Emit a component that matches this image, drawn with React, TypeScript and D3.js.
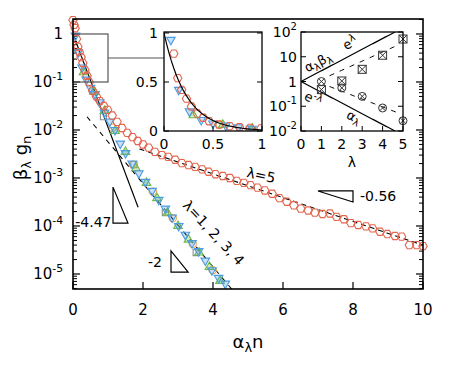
import * as d3 from "d3";

// λ = 5 series (red hexagons)
const redX = [0, 0.03, 0.06, 0.1, 0.14, 0.18, 0.23, 0.28, 0.34, 0.4, 0.46, 0.56, 0.67, 0.77, 0.88, 0.99,
  1.12, 1.26, 1.4, 1.55, 1.7, 1.85, 2.0, 2.16, 2.34, 2.54, 2.72, 2.92, 3.11, 3.3, 3.49, 3.69, 3.87,
  4.07, 4.28, 4.48, 4.68, 4.88, 5.07, 5.27, 5.48, 5.69, 5.9, 6.11, 6.31, 6.51, 6.72, 6.91, 7.13,
  7.34, 7.53, 7.74, 7.94, 8.15, 8.37, 8.56, 8.77, 8.98, 9.2, 9.39, 9.61, 9.82, 10.0];
const redY = [1.95, 1.55, 1.32, 0.79, 0.54, 0.42, 0.33, 0.25, 0.178, 0.135, 0.1, 0.066, 0.05, 0.04, 0.0316, 0.0263,
  0.02, 0.0148, 0.011, 8.7e-3, 7.1e-3, 5.9e-3, 5.0e-3, 4.3e-3, 3.5e-3, 3.0e-3, 2.75e-3, 2.4e-3, 2.04e-3, 1.86e-3, 1.7e-3, 1.51e-3, 1.35e-3,
  1.2e-3, 1.1e-3, 1.0e-3, 8.7e-4, 7.9e-4, 7.1e-4, 6.3e-4, 5.5e-4, 4.7e-4, 3.8e-4, 3.2e-4, 2.7e-4, 2.3e-4, 2.1e-4, 1.9e-4, 1.78e-4,
  1.82e-4, 1.55e-4, 1.38e-4, 1.15e-4, 1.05e-4, 9.8e-5, 8.9e-5, 7.6e-5, 6.8e-5, 6.2e-5, 6.0e-5, 4.0e-5, 4.0e-5, 3.8e-5];

// λ = 4 (blue down-triangles)
const blueX = [0.07, 0.15, 0.26, 0.38, 0.5, 0.63, 0.76, 0.9, 1.05, 1.2, 1.35, 1.5, 1.69, 1.88, 2.07, 2.26,
  2.45, 2.64, 2.83, 3.02, 3.21, 3.4, 3.59, 3.78, 3.97, 4.16, 4.35];
const blueY = [0.93, 0.42, 0.2, 0.112, 0.076, 0.056, 0.038, 0.023, 0.015, 0.01, 5.2e-3, 3.3e-3, 2.0e-3, 1.26e-3, 8.3e-4, 5.4e-4,
  3.5e-4, 2.3e-4, 1.5e-4, 1.0e-4, 6.6e-5, 4.4e-5, 3.0e-5, 1.9e-5, 1.2e-5, 8.3e-6, 6.3e-6];

// λ = 3 (green up-triangles)
const greenX = [0.3, 0.6, 0.9, 1.2, 1.5, 1.8, 2.1, 2.4, 2.7, 3.0, 3.3, 3.6, 3.9, 4.2];
const greenY = [0.16, 0.063, 0.025, 9.5e-3, 3.5e-3, 1.6e-3, 7.9e-4, 3.8e-4, 1.9e-4, 1.0e-4, 5.2e-5, 2.8e-5, 1.4e-5, 7.2e-6];

// λ = 2 (orange circles)
const orangeX = [0.57, 1.14, 1.71, 2.28, 2.85, 3.42, 3.99];
const orangeY = [0.063, 0.0112, 1.9e-3, 5.2e-4, 1.45e-4, 4.2e-5, 1.2e-5];

// λ = 1 (grey squares)
const greyX = [0.87, 1.74, 2.64, 3.52];
const greyY = [0.019, 1.9e-3, 1.9e-4, 2.8e-5];

// fitted exponentials: amp * exp(-rate * x)
const steepFit = { amp: 1, rate: 4.47, from: 0, to: 1.86 };
const groupFit = { amp: 0.042, rate: 2, from: 0.4, to: 4.6 };
const tailFit = { amp: 0.0119, rate: 0.57, from: 1.9, to: 10 };

// right inset: values against λ
const lambdas = [1, 2, 3, 4, 5];
const alphaBeta = [0.47, 1.05, 3.1, 11.5, 52];
const alphaVals = [1.0, 0.55, 0.25, 0.085, 0.026];

const xTicks = [0, 2, 4, 6, 8, 10];
const yDecades = [0, -1, -2, -3, -4, -5];
const insetTicks = [0, 0.5, 1];
const lamTicks = [0, 1, 2, 3, 4, 5];
const lamDecades = [2, 1, 0, -1, -2];

const FONT = "DejaVu Sans, Verdana, sans-serif";
const RED = "#e4644e";
const BLUE = "#4a9be0";
const GREEN = "#6cb944";
const ORANGE = "#f2a04e";
const GREY = "#8c8c8c";

const x = d3.scaleLinear().domain([0, 10]).range([73, 423]);
const y = d3.scaleLog().domain([4.87e-6, 2.053]).range([289, 19]);

const xi = d3.scaleLinear().domain([0, 1]).range([164, 262]);
const yi = d3.scaleLinear().domain([0, 1.01]).range([131, 32]);

const xl = d3.scaleLinear().domain([0, 5]).range([301, 403]);
const yl = d3.scaleLog().domain([0.01, 100]).range([131, 32]);

type Kind = "hex" | "down" | "up" | "circle" | "square";

const series: { kind: Kind; color: string; xs: number[]; ys: number[] }[] = [
  { kind: "square", color: GREY, xs: greyX, ys: greyY },
  { kind: "circle", color: ORANGE, xs: orangeX, ys: orangeY },
  { kind: "up", color: GREEN, xs: greenX, ys: greenY },
  { kind: "down", color: BLUE, xs: blueX, ys: blueY },
  { kind: "hex", color: RED, xs: redX, ys: redY },
];

const hexPath = (() => {
  const r = 4.2;
  const pts = d3.range(6).map((i) => {
    const a = (Math.PI / 3) * i;
    return [r * Math.cos(a), r * Math.sin(a)] as [number, number];
  });
  return d3.line()(pts) + "Z";
})();

const symPath: Record<Kind, string> = {
  hex: hexPath,
  down: d3.symbol(d3.symbolTriangle, 32)() as string,
  up: d3.symbol(d3.symbolTriangle, 32)() as string,
  circle: d3.symbol(d3.symbolCircle, 42)() as string,
  square: d3.symbol(d3.symbolSquare, 38)() as string,
};

function Marker({ kind, cx, cy, color }: { kind: Kind; cx: number; cy: number; color: string }) {
  const rot = kind === "down" ? " rotate(180)" : "";
  const fill = kind === "down" || kind === "up" ? color : "none";
  return (
    <path
      d={symPath[kind]}
      transform={`translate(${cx},${cy})${rot}`}
      fill={fill}
      fillOpacity={0.3}
      stroke={color}
      strokeWidth={1.1}
    />
  );
}

function fitPath(f: { amp: number; rate: number; from: number; to: number }, sx: any, sy: any) {
  const pts = d3.range(0, 41).map((i) => {
    const xv = f.from + ((f.to - f.from) * i) / 40;
    return [sx(xv), sy(f.amp * Math.exp(-f.rate * xv))] as [number, number];
  });
  return d3.line()(pts) as string;
}

function PowLabel({ x0, y0, exp, size, anchor = "end" }: { x0: number; y0: number; exp: number; size: number; anchor?: string }) {
  if (exp === 0)
    return (
      <text x={x0} y={y0} textAnchor={anchor} dominantBaseline="central" fontSize={size}>1</text>
    );
  if (exp === 1)
    return (
      <text x={x0} y={y0} textAnchor={anchor} dominantBaseline="central" fontSize={size}>10</text>
    );
  return (
    <text x={x0} y={y0} textAnchor={anchor} dominantBaseline="central" fontSize={size}>
      10<tspan dy={-6} fontSize={size * 0.72}>{exp}</tspan>
    </text>
  );
}

// slope triangles, in data units (x, log10 y)
const slopeTris = [
  { pts: [[1.143, -3.19], [1.143, -3.94], [1.571, -3.94]], label: "-4.47", lx: 1.1, ly: -3.92, anchor: "end" },
  { pts: [[2.8, -4.52], [2.8, -4.96], [3.29, -4.96]], label: "-2", lx: 2.54, ly: -4.75, anchor: "end" },
  { pts: [[7.0, -3.27], [8.0, -3.27], [8.0, -3.5]], label: "-0.56", lx: 8.2, ly: -3.38, anchor: "start" },
];

export default function App() {
  const [x0, x1] = x.range();
  const yBot = 289, yTop = 19;
  const minors: number[] = [];
  for (let d = -6; d <= 0; d++)
    for (let k = 2; k <= 9; k++) {
      const v = k * Math.pow(10, d);
      if (v > 4.87e-6 && v < 2.05) minors.push(v);
    }

  return (
    <svg width={450} height={375} style={{ position: "absolute", left: 0, top: 0, background: "#fff" }} fontFamily={FONT}>
      <defs>
        <clipPath id="main-clip">
          <rect x={x0} y={yTop} width={x1 - x0} height={yBot - yTop} />
        </clipPath>
        <clipPath id="inset-clip">
          <rect x={164} y={32} width={98} height={99} />
        </clipPath>
        <clipPath id="lam-clip">
          <rect x={301} y={32} width={102} height={99} />
        </clipPath>
      </defs>

      {/* main ticks */}
      {xTicks.map((t) => (
        <g key={"xt" + t}>
          <line x1={x(t)} x2={x(t)} y1={yBot} y2={yBot - 7} stroke="#000" strokeWidth={1.2} />
          <text x={x(t)} y={310} textAnchor="middle" dominantBaseline="central" fontSize={15}>{t}</text>
        </g>
      ))}
      {yDecades.map((d) => (
        <g key={"yt" + d}>
          <line x1={x0} x2={x0 + 7} y1={y(Math.pow(10, d))} y2={y(Math.pow(10, d))} stroke="#000" strokeWidth={1.2} />
          <line x1={x1} x2={x1 - 7} y1={y(Math.pow(10, d))} y2={y(Math.pow(10, d))} stroke="#000" strokeWidth={1.2} />
          <PowLabel x0={63} y0={y(Math.pow(10, d))} exp={d} size={15} />
        </g>
      ))}
      {minors.map((v, i) => (
        <g key={"mn" + i}>
          <line x1={x0} x2={x0 + 4} y1={y(v)} y2={y(v)} stroke="#000" strokeWidth={1} />
          <line x1={x1} x2={x1 - 4} y1={y(v)} y2={y(v)} stroke="#000" strokeWidth={1} />
        </g>
      ))}

      {/* fits */}
      <g clipPath="url(#main-clip)" fill="none" stroke="#000">
        <path d={fitPath(steepFit, x, y)} strokeWidth={1.2} />
        <path d={fitPath(groupFit, x, y)} strokeWidth={1.1} strokeDasharray="5,5" />
        <path d={fitPath(tailFit, x, y)} strokeWidth={1.1} strokeDasharray="5,4" />
      </g>

      {/* data */}
      {series.map((s, si) => (
        <g key={"s" + si}>
          {s.xs.map((xv, i) => (
            <Marker key={i} kind={s.kind} cx={x(xv)} cy={y(s.ys[i])} color={s.color} />
          ))}
        </g>
      ))}

      {/* slope triangles */}
      {slopeTris.map((t, i) => (
        <g key={"tri" + i}>
          <path
            d={(d3.line()(t.pts.map((p) => [x(p[0]), y(Math.pow(10, p[1]))] as [number, number])) as string) + "Z"}
            fill="none"
            stroke="#000"
            strokeWidth={1.2}
          />
          <text x={x(t.lx)} y={y(Math.pow(10, t.ly))} textAnchor={t.anchor} dominantBaseline="central" fontSize={14}>
            {t.label}
          </text>
        </g>
      ))}

      <text transform={`translate(246,177) rotate(12)`} fontSize={14}>λ=5</text>
      <text transform={`translate(182,206) rotate(47)`} fontSize={14}>λ=1, 2, 3, 4</text>

      {/* zoom box and connector */}
      <rect x={x(0)} y={y(1)} width={x(1) - x(0)} height={y(0.1) - y(1)} fill="none" stroke="#555" strokeWidth={1.2} />
      <line x1={x(1)} x2={164} y1={y(0.316)} y2={y(0.316)} stroke="#555" strokeWidth={1.2} />

      {/* main frame */}
      <rect x={x0} y={yTop} width={x1 - x0} height={yBot - yTop} fill="none" stroke="#000" strokeWidth={1.6} />

      {/* inset: linear view of the first unit */}
      <rect x={164} y={32} width={98} height={99} fill="#fff" />
      <g clipPath="url(#inset-clip)">
        {series.map((s, si) => (
          <g key={"is" + si}>
            {s.xs.map((xv, i) =>
              xv <= 1.02 && s.ys[i] <= 1.02 ? (
                <Marker key={i} kind={s.kind} cx={xi(xv)} cy={yi(s.ys[i])} color={s.color} />
              ) : null
            )}
          </g>
        ))}
        <path d={fitPath({ amp: 1, rate: 4.47, from: 0, to: 1 }, xi, yi)} fill="none" stroke="#000" strokeWidth={1.2} />
      </g>
      {insetTicks.map((t) => (
        <g key={"it" + t}>
          <line x1={xi(t)} x2={xi(t)} y1={131} y2={126} stroke="#000" />
          <line x1={164} x2={169} y1={yi(t)} y2={yi(t)} stroke="#000" />
          <line x1={262} x2={257} y1={yi(t)} y2={yi(t)} stroke="#000" />
          <text x={xi(t)} y={144} textAnchor="middle" dominantBaseline="central" fontSize={14}>{t}</text>
          <text x={158} y={yi(t)} textAnchor="end" dominantBaseline="central" fontSize={14}>{t}</text>
        </g>
      ))}
      <rect x={164} y={32} width={98} height={99} fill="none" stroke="#000" strokeWidth={1.3} />

      {/* inset: coefficients against λ */}
      <rect x={301} y={32} width={102} height={99} fill="#fff" />
      <g clipPath="url(#lam-clip)">
        <path d={fitPath({ amp: 1, rate: -1, from: 0, to: 4.61 }, xl, yl)} fill="none" stroke="#000" strokeWidth={1.2} />
        <path d={fitPath({ amp: 1, rate: 1, from: 0, to: 4.61 }, xl, yl)} fill="none" stroke="#000" strokeWidth={1.2} />
        <path d={fitPath({ amp: 0.52, rate: -0.85, from: 1.4, to: 4.7 }, xl, yl)} fill="none" stroke="#000" strokeDasharray="5,6" />
        <path d={fitPath({ amp: 1.74, rate: 0.73, from: 1.4, to: 4.8 }, xl, yl)} fill="none" stroke="#000" strokeDasharray="5,6" />
      </g>
      {lambdas.map((l, i) => (
        <g key={"ab" + l} transform={`translate(${xl(l)},${yl(alphaBeta[i])})`} fill="none" stroke="#333" strokeWidth={1}>
          <rect x={-4} y={-4} width={8} height={8} />
          <path d="M-4,-4L4,4M4,-4L-4,4" />
        </g>
      ))}
      {lambdas.map((l, i) => (
        <g key={"al" + l} transform={`translate(${xl(l)},${yl(alphaVals[i])})`} fill="none" stroke="#333" strokeWidth={1}>
          <circle r={4} />
          <path d="M-2.8,-2.8L2.8,2.8M2.8,-2.8L-2.8,2.8" />
        </g>
      ))}
      {lamTicks.map((t) => (
        <g key={"lt" + t}>
          <line x1={xl(t)} x2={xl(t)} y1={131} y2={126} stroke="#000" />
          <text x={xl(t)} y={144} textAnchor="middle" dominantBaseline="central" fontSize={14}>{t}</text>
        </g>
      ))}
      {lamDecades.map((d) => (
        <g key={"ld" + d}>
          <line x1={301} x2={306} y1={yl(Math.pow(10, d))} y2={yl(Math.pow(10, d))} stroke="#000" />
          <line x1={403} x2={398} y1={yl(Math.pow(10, d))} y2={yl(Math.pow(10, d))} stroke="#000" />
          <PowLabel x0={297} y0={yl(Math.pow(10, d))} exp={d} size={14} />
        </g>
      ))}
      <rect x={301} y={32} width={102} height={99} fill="none" stroke="#000" strokeWidth={1.3} />
      <text transform="translate(320,66) rotate(-27)" textAnchor="middle" fontSize={13}>
        α<tspan dy={3} fontSize={10}>λ</tspan><tspan dy={-3}>β</tspan><tspan dy={3} fontSize={10}>λ</tspan>
      </text>
      <text transform="translate(352,47) rotate(-27)" textAnchor="middle" fontSize={13}>
        e<tspan dy={-5} fontSize={10}>λ</tspan>
      </text>
      <text transform="translate(311,103) rotate(27)" textAnchor="middle" fontSize={13}>
        e<tspan dy={-5} fontSize={10}>-λ</tspan>
      </text>
      <text transform="translate(352,121) rotate(27)" textAnchor="middle" fontSize={13}>
        α<tspan dy={3} fontSize={10}>λ</tspan>
      </text>
      <text x={352} y={162} textAnchor="middle" dominantBaseline="central" fontSize={14}>λ</text>

      {/* axis titles */}
      <text transform="translate(27,158) rotate(-90)" textAnchor="middle" fontSize={18}>
        β<tspan dy={4} fontSize={13}>λ</tspan><tspan dy={-4}> g</tspan><tspan dy={4} fontSize={13}>n</tspan>
      </text>
      <text x={248} y={348} textAnchor="middle" fontSize={18}>
        α<tspan dy={4} fontSize={13}>λ</tspan><tspan dy={-4}>n</tspan>
      </text>
    </svg>
  );
}
